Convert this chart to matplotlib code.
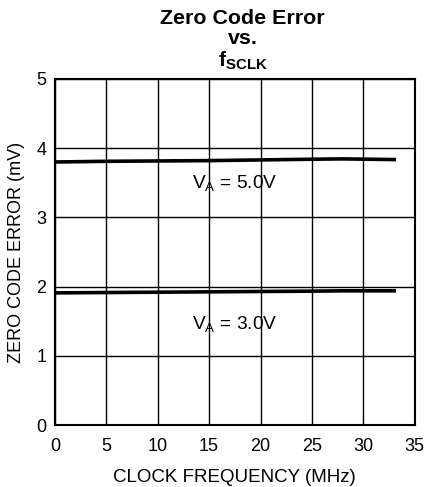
import matplotlib
matplotlib.use("Agg")
import matplotlib.pyplot as plt

plt.rcParams['font.family'] = ['Liberation Sans', 'DejaVu Sans']
plt.rcParams['mathtext.fontset'] = 'custom'
plt.rcParams['mathtext.rm'] = 'Liberation Sans'
plt.rcParams['mathtext.bf'] = 'Liberation Sans:bold'

# data
freq = [0, 5, 10, 15, 20, 25, 28, 33]
err_5v = [3.80, 3.81, 3.815, 3.82, 3.83, 3.84, 3.845, 3.835]
err_3v = [1.91, 1.915, 1.92, 1.925, 1.93, 1.935, 1.94, 1.94]
xticks = [0, 5, 10, 15, 20, 25, 30, 35]
yticks = [0, 1, 2, 3, 4, 5]

fig = plt.figure(figsize=(4.25, 4.87), dpi=100)
ax = fig.add_axes([0.129, 0.127, 0.847, 0.711])

ax.plot(freq, err_5v, color='black', lw=2.6)
ax.plot(freq, err_3v, color='black', lw=2.6)

ax.text(17.5, 3.48, r'V$_\mathrm{A}$ = 5.0V', ha='center', va='center', fontsize=13.8)
ax.text(17.5, 1.45, r'V$_\mathrm{A}$ = 3.0V', ha='center', va='center', fontsize=13.8)

ax.set_xlim(0, 35)
ax.set_ylim(0, 5)
ax.set_xticks(xticks)
ax.set_yticks(yticks)
ax.tick_params(length=0, labelsize=13)
ax.tick_params(axis='x', pad=9)
ax.tick_params(axis='y', pad=6)
ax.grid(True, color='black', lw=1)
for s in ax.spines.values():
    s.set_linewidth(1.5)

ax.set_xlabel('CLOCK FREQUENCY (MHz)', fontsize=13.5, labelpad=10)
ax.set_ylabel('ZERO CODE ERROR (mV)', fontsize=13, labelpad=8)
fig.text(0.571, 0.982, 'Zero Code Error\nvs.\n' + r'$\mathbf{f_{SCLK}}$', fontsize=15.4,
         fontweight='bold', linespacing=1.1, ha='center', va='top')

fig.savefig('out.png', dpi=100)
